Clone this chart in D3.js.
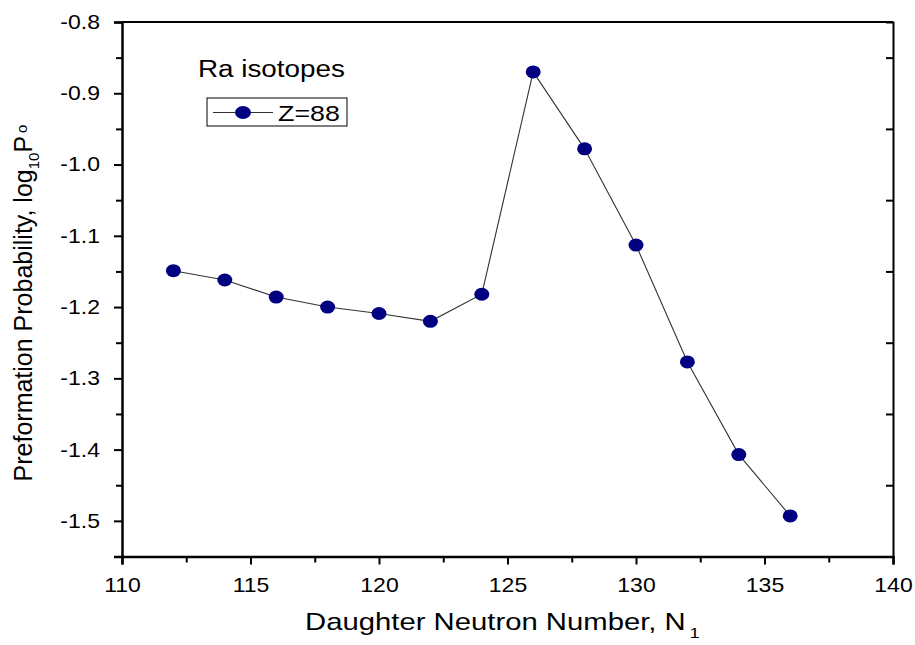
<!DOCTYPE html>
<html><head><meta charset="utf-8">
<script src="https://cdn.jsdelivr.net/npm/d3@7"></script>
<style>body{margin:0;background:#fff}svg{display:block}text{font-family:Arial,"Liberation Sans",sans-serif;fill:#000}</style>
</head><body>
<svg id="c" width="915" height="645"></svg>
<script>
const neutronNumbers = [112,114,116,118,120,122,124,126,128,130,132,134,136];
const logP0 = [-1.149,-1.162,-1.186,-1.200,-1.209,-1.220,-1.182,-0.870,-0.978,-1.113,-1.277,-1.407,-1.493];
const xTicks = [110,115,120,125,130,135,140];
const yTicks = [-0.8,-0.9,-1.0,-1.1,-1.2,-1.3,-1.4,-1.5];
const seriesName = "Z=88";
const legendTitle = "Ra isotopes";

const svg = d3.select("#c");
const L = 122, R = 893, T = 22, B = 556.5;
const x = d3.scaleLinear().domain([110,140]).range([L,R]);
const y = d3.scaleLinear().domain([-1.55,-0.8]).range([B,T]);
const data = neutronNumbers.map((n,i)=>({n, v: logP0[i]}));

function stretch(sel, s){
  sel.each(function(){
    const t = d3.select(this);
    const tx = +t.attr("x") || 0;
    t.attr("x",0).attr("transform",`translate(${tx},0) scale(${s},1)`);
  });
}

const xAxis = d3.axisBottom(x).tickValues(xTicks).tickSize(8).tickPadding(13).tickFormat(d=>String(d));
const xMinor = d3.axisBottom(x).tickValues(d3.range(112.5,140,5)).tickSize(6).tickFormat("");
const yAxis = d3.axisLeft(y).tickValues(yTicks).tickSize(8).tickPadding(14).tickFormat(d=>d.toFixed(1));
const yMinor = d3.axisLeft(y).tickValues(d3.range(-0.85,-1.56,-0.1)).tickSize(6).tickFormat("");
const yRight = d3.axisRight(y).tickValues(d3.range(-0.85,-1.51,-0.1)).tickSize(-7).tickFormat("");

function style(g, w){
  g.selectAll(".domain").attr("stroke","#000").attr("stroke-width",w);
  g.selectAll(".tick line").attr("stroke","#000").attr("stroke-width",2);
  g.selectAll(".tick text").attr("font-size",20).attr("fill","#000").style("font-family","Arial, 'Liberation Sans', sans-serif");
}
svg.append("line").attr("x1",L).attr("x2",R).attr("y1",T).attr("y2",T).attr("stroke","#000").attr("stroke-width",2);
svg.append("g").attr("transform",`translate(0,${B})`).call(xMinor).call(g=>style(g,2.5)).select(".domain").remove();
const gx = svg.append("g").attr("transform",`translate(0,${B})`).call(xAxis).call(g=>style(g,2.5));
svg.append("g").attr("transform",`translate(${L},0)`).call(yMinor).call(g=>style(g,2.5)).select(".domain").remove();
const gy = svg.append("g").attr("transform",`translate(${L},0)`).call(yAxis).call(g=>style(g,2.5));
svg.append("g").attr("transform",`translate(${R},0)`).call(yRight).call(g=>style(g,2));
gx.selectAll(".tick text").call(stretch,1.15);
gy.selectAll(".tick text").call(stretch,1.15);

// line + markers
svg.append("path").datum(data)
  .attr("fill","none").attr("stroke","#333").attr("stroke-width",1.1)
  .attr("d", d3.line().x(d=>x(d.n)).y(d=>y(d.v)));
svg.append("g").selectAll("ellipse").data(data).join("ellipse")
  .attr("cx",d=>x(d.n)).attr("cy",d=>y(d.v)).attr("rx",7.5).attr("ry",6.5)
  .attr("fill","#000080");

// axis titles
const xt = svg.append("text").attr("transform","translate(305,630) scale(1.22,1)").attr("font-size",24);
xt.append("tspan").text("Daughter Neutron Number, N");
xt.append("tspan").attr("font-size",15).attr("dx",3).attr("dy",8).text("1");
const yl = svg.append("text").attr("transform","translate(32,303) rotate(-90)").attr("text-anchor","middle").attr("font-size",25);
yl.append("tspan").text("Preformation Probability, log");
yl.append("tspan").attr("font-size",15).attr("dy",7).text("10");
yl.append("tspan").attr("dy",-7).text("P");
yl.append("tspan").attr("font-size",15).attr("dx",3).attr("dy",-5).text("o");

// legend
svg.append("text").attr("transform","translate(198,77) scale(1.21,1)").attr("font-size",23).text(legendTitle);
svg.append("rect").attr("x",207).attr("y",98).attr("width",140).attr("height",28).attr("fill","none").attr("stroke","#000").attr("stroke-width",1);
svg.append("line").attr("x1",213).attr("x2",273).attr("y1",112.5).attr("y2",112.5).attr("stroke","#333").attr("stroke-width",1.1);
svg.append("ellipse").attr("cx",243).attr("cy",112.5).attr("rx",8).attr("ry",6.5).attr("fill","#000080");
svg.append("text").attr("transform","translate(278,121) scale(1.22,1)").attr("font-size",22).text(seriesName);
</script>
</body></html>
